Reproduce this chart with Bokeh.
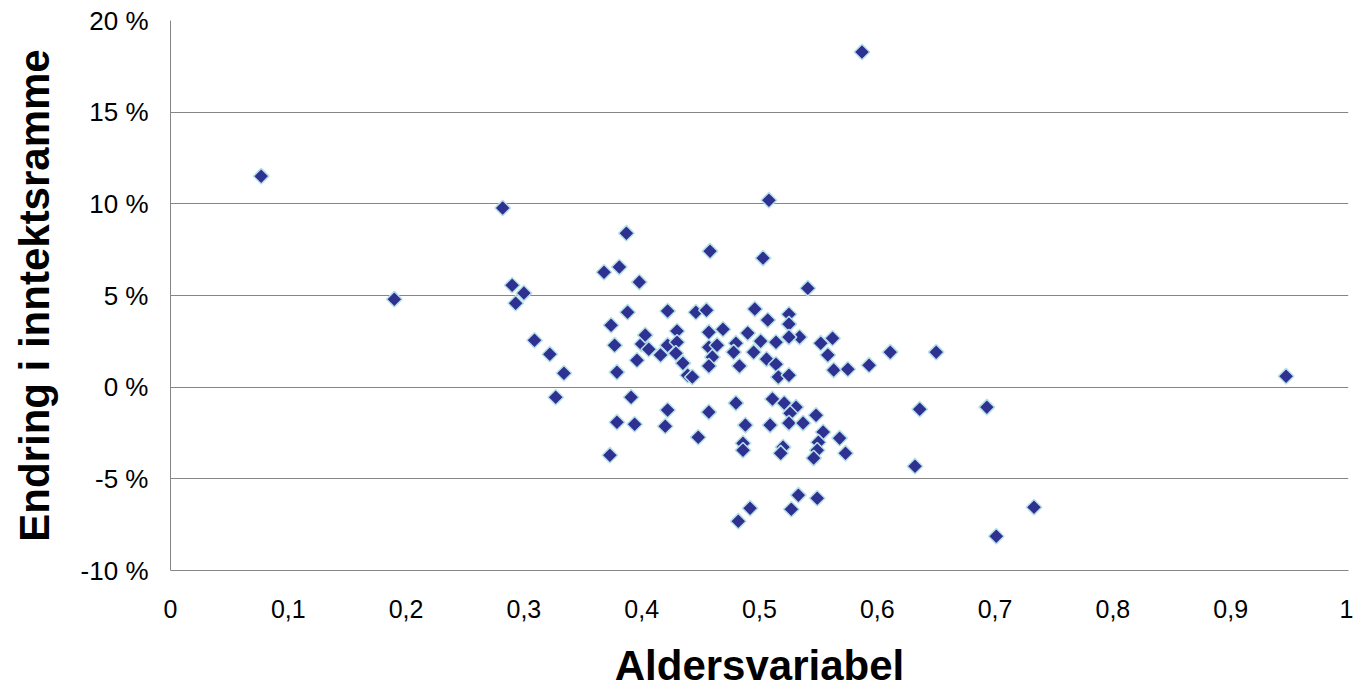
import math
from bokeh.plotting import figure
from bokeh.layouts import column
from bokeh.models import (Range1d, CustomJSTickFormatter, FixedTicker,
                          ColumnDataSource)
from bokeh.core.properties import value
from bokeh.embed import file_html
from bokeh.resources import INLINE

# Aldersvariabel (x) and Endring i inntektsramme in % (y)
alder = [
    0.077, 0.190, 0.282, 0.290, 0.300, 0.293, 0.309, 0.322, 0.334, 0.327,
    0.368, 0.381, 0.387, 0.398, 0.388, 0.374, 0.377, 0.379, 0.391, 0.379,
    0.394, 0.373, 0.396, 0.400, 0.403, 0.406, 0.416, 0.422, 0.446, 0.455,
    0.430, 0.422, 0.430, 0.429, 0.435, 0.439, 0.443, 0.457, 0.469, 0.457,
    0.464, 0.460, 0.457, 0.480, 0.478, 0.483, 0.458, 0.503, 0.541, 0.496,
    0.507, 0.525, 0.525, 0.490, 0.501, 0.514, 0.495, 0.506, 0.514, 0.516,
    0.525, 0.534, 0.525, 0.552, 0.562, 0.558, 0.563, 0.575, 0.593, 0.611,
    0.650, 0.587, 0.508, 0.947, 0.422, 0.420, 0.457, 0.448, 0.480, 0.488,
    0.486, 0.486, 0.511, 0.521, 0.531, 0.526, 0.525, 0.509, 0.537, 0.548,
    0.554, 0.550, 0.549, 0.546, 0.520, 0.518, 0.568, 0.573, 0.533, 0.549,
    0.492, 0.482, 0.527, 0.636, 0.632, 0.693, 0.701, 0.733,
]
endring = [
    11.51, 4.80, 9.77, 5.56, 5.13, 4.58, 2.56, 1.80, 0.76, -0.55,
    6.27, 6.55, 8.40, 5.73, 4.09, 3.38, 2.29, 0.82, -0.55, -1.91,
    -2.02, -3.71, 1.47, 2.35, 2.84, 2.07, 1.75, 4.15, 4.09, 4.20,
    3.06, 2.29, 2.45, 1.85, 1.31, 0.65, 0.55, 3.00, 3.16, 2.18,
    2.29, 1.64, 1.15, 2.40, 1.91, 1.15, 7.42, 7.04, 5.40, 4.26,
    3.66, 3.98, 3.44, 2.95, 2.51, 2.45, 1.91, 1.53, 1.25, 0.55,
    0.65, 2.73, 2.73, 2.40, 2.67, 1.75, 0.93, 0.98, 1.20, 1.91,
    1.91, 18.28, 10.20, 0.60, -1.25, -2.13, -1.36, -2.73, -0.87, -2.07,
    -3.06, -3.44, -0.65, -0.87, -1.09, -1.42, -1.96, -2.07, -1.96, -1.53,
    -2.45, -3.00, -3.44, -3.87, -3.27, -3.60, -2.78, -3.60, -5.89, -6.06,
    -6.60, -7.31, -6.66, -1.20, -4.31, -1.09, -8.13, -6.55,
]
y_ticks = [-10, -5, 0, 5, 10, 15, 20]
x_ticks = [0, 0.1, 0.2, 0.3, 0.4, 0.5, 0.6, 0.7, 0.8, 0.9, 1.0]
x_title = "Aldersvariabel"
y_title = "Endring i inntektsramme"

FONT = "Liberation Sans"
GRID = "#868686"

p = figure(width=1353, height=634, output_backend="svg", toolbar_location=None,
           x_range=Range1d(0, 1), y_range=Range1d(-10, 20),
           min_border_left=170, min_border_right=5, min_border_top=20,
           min_border_bottom=64)
p.outline_line_color = None
p.background_fill_color = "white"

src = ColumnDataSource(dict(x=alder, y=endring))
p.scatter("x", "y", source=src, marker="square", angle=math.pi / 4, size=11,
          fill_color="#2E3192", line_color="#B7E0E6", line_width=1.5)

p.xgrid.grid_line_color = None
p.ygrid.ticker = FixedTicker(ticks=y_ticks)
p.ygrid.grid_line_color = GRID
p.ygrid.grid_line_width = 1

p.yaxis.ticker = FixedTicker(ticks=y_ticks)
p.yaxis.formatter = CustomJSTickFormatter(code="return tick + ' %';")
p.xaxis.ticker = FixedTicker(ticks=x_ticks)
p.xaxis.formatter = CustomJSTickFormatter(
    code="return Number(tick.toFixed(1)).toString().replace('.', ',');")

for ax in (p.xaxis[0], p.yaxis[0]):
    ax.axis_line_color = GRID
    ax.axis_line_width = 1
    ax.major_tick_line_color = None
    ax.minor_tick_line_color = None
    ax.major_tick_out = 0
    ax.major_tick_in = 0
    ax.minor_tick_out = 0
    ax.major_label_text_font = FONT
    ax.major_label_text_color = "black"
    ax.axis_label_text_font = FONT
    ax.axis_label_text_font_size = "42px"
    ax.axis_label_text_font_style = "bold"
    ax.axis_label_text_color = "black"

p.xaxis.major_label_text_font_size = "25px"
p.yaxis.major_label_text_font_size = "26px"
p.yaxis.axis_label = y_title
p.xaxis.major_label_standoff = 29
p.yaxis.major_label_standoff = 22
p.yaxis.axis_label_standoff = 20

# strip below the chart carrying the x-axis title
t = figure(width=1353, height=55, output_backend="svg", toolbar_location=None,
           x_range=Range1d(0, 1), y_range=Range1d(0, 55),
           x_axis_location=None, y_axis_location=None,
           min_border_left=170, min_border_right=5, min_border_top=0,
           min_border_bottom=0)
t.outline_line_color = None
t.grid.grid_line_color = None
t.text(x=[0.5], y=[24], text=[x_title], text_align="center",
       text_baseline="alphabetic", text_font=value(FONT),
       text_font_size="42px", text_font_style="bold", text_color="black")

layout = column(p, t, spacing=0)
open("out.html", "w").write(file_html(layout, INLINE))
